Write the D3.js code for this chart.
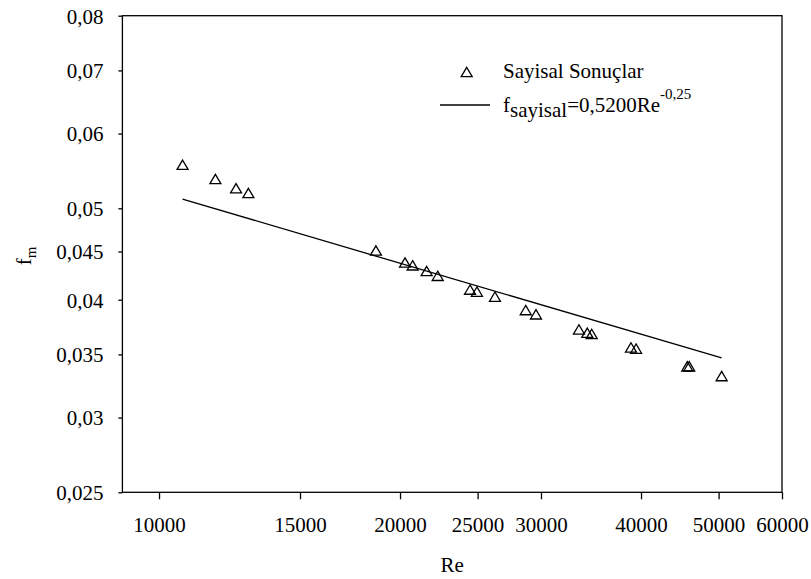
<!DOCTYPE html>
<html>
<head>
<meta charset="utf-8">
<title>f_m vs Re</title>
<script src="https://cdn.jsdelivr.net/npm/d3@7"></script>
<style>
    body { margin: 0; background: #fff; }
    svg text { font-family: "Liberation Serif", "DejaVu Serif", "Times New Roman", Times, serif !important; fill: #000; }
</style>
</head>
<body>
<script>
(function(){

    //pseudo-global variables
    //numerical results (Re, f_m)
    var reValues = [10700, 11760, 12480, 12930, 18660, 20290, 20740, 21590, 22290, 24460, 24950,
                    26280, 28710, 29570, 33460, 34270, 34710, 38860, 39430, 45690, 45950, 50440];
    var fValues = [0.0556, 0.0537, 0.0525, 0.0519, 0.0451, 0.0438, 0.0435, 0.0429, 0.0424, 0.0410, 0.0408,
                   0.0403, 0.0390, 0.0386, 0.0372, 0.0369, 0.0368, 0.0356, 0.0355, 0.0340, 0.0340, 0.0332];

    //fitted curve f = 0.52 * Re^-0.25, drawn over the data range
    var fitCoef = 0.52,
        fitExp = -0.25;

    //axis ticks and their labels
    var xTicks = [10000, 15000, 20000, 25000, 30000, 40000, 50000, 60000];
    var yTicks = [0.025, 0.03, 0.035, 0.04, 0.045, 0.05, 0.06, 0.07, 0.08];
    var yTickLabels = ["0,025", "0,03", "0,035", "0,04", "0,045", "0,05", "0,06", "0,07", "0,08"];

    var serif = "'Liberation Serif', 'DejaVu Serif', 'Times New Roman', serif";

//begin script when window loads
window.onload = drawChart();

function drawChart(){

    //frame dimensions
    var width = 811,
        height = 579;

    var plot = {left: 122.4, right: 782, top: 15.7, bottom: 492.3};

    //create svg container
    var svg = d3.select("body")
        .append("svg")
        .attr("width", width)
        .attr("height", height)
        .style("font-family", serif);

    //log scales on both axes
    var x = d3.scaleLog()
        .domain([9000, 60000])
        .range([plot.left, plot.right]);

    var y = d3.scaleLog()
        .domain([0.025, 0.08])
        .range([plot.bottom, plot.top]);

    //frame box
    svg.append("rect")
        .attr("x", plot.left)
        .attr("y", plot.top)
        .attr("width", plot.right - plot.left)
        .attr("height", plot.bottom - plot.top)
        .attr("fill", "none")
        .attr("stroke", "#000")
        .attr("stroke-width", 1.3);

    //bottom axis
    var xAxis = svg.append("g")
        .attr("transform", "translate(0," + plot.bottom + ")")
        .call(d3.axisBottom(x)
            .tickValues(xTicks)
            .tickSize(7)
            .tickPadding(0)
            .tickFormat(d3.format("d")));

    xAxis.attr("font-family", null).attr("font-size", null);
    xAxis.select(".domain").remove();
    xAxis.selectAll("line").attr("stroke-width", 1.3);
    xAxis.selectAll("text")
        .attr("y", 40)
        .attr("dy", null)
        .style("font-size", "21px")
        .style("font-family", serif);

    //left axis
    var yAxis = svg.append("g")
        .attr("transform", "translate(" + plot.left + ",0)")
        .call(d3.axisLeft(y)
            .tickValues(yTicks)
            .tickSize(4)
            .tickPadding(15)
            .tickFormat(function(d, i){ return yTickLabels[i]; }));

    yAxis.attr("font-family", null).attr("font-size", null);
    yAxis.select(".domain").remove();
    yAxis.selectAll("line").attr("stroke-width", 1.3);
    yAxis.selectAll("text")
        .attr("dy", "0.35em")
        .style("font-size", "21px")
        .style("font-family", serif);

    //axis titles
    svg.append("text")
        .attr("x", (plot.left + plot.right) / 2)
        .attr("y", 572)
        .attr("text-anchor", "middle")
        .style("font-size", "21px")
        .text("Re");

    var yTitle = svg.append("text")
        .attr("transform", "translate(31," + ((plot.top + plot.bottom) / 2 + 2) + ") rotate(-90)")
        .attr("text-anchor", "middle")
        .style("font-size", "21px");
    yTitle.append("tspan").text("f");
    yTitle.append("tspan").style("font-size", "15px").attr("dy", 5).text("m");

    //fit line over data range
    var reExtent = d3.extent(reValues);
    var fitLine = reExtent.map(function(re){
        return [re, fitCoef * Math.pow(re, fitExp)];
    });

    svg.append("path")
        .datum(fitLine)
        .attr("fill", "none")
        .attr("stroke", "#000")
        .attr("stroke-width", 1.3)
        .attr("d", d3.line()
            .x(function(d){ return x(d[0]); })
            .y(function(d){ return y(d[1]); }));

    //open triangle symbol centred on its bounding box
    var triangle = {
        draw: function(context, size){
            var w = size, h = size * 0.85;
            context.moveTo(0, -h / 2);
            context.lineTo(w / 2, h / 2);
            context.lineTo(-w / 2, h / 2);
            context.closePath();
        }
    };
    var symbol = d3.symbol().type(triangle).size(11);

    //data points
    var points = reValues.map(function(re, i){ return {re: re, f: fValues[i]}; });

    svg.selectAll(".pt")
        .data(points)
        .enter()
        .append("path")
        .attr("class", "pt")
        .attr("transform", function(d){ return "translate(" + x(d.re) + "," + y(d.f) + ")"; })
        .attr("d", symbol)
        .attr("fill", "none")
        .attr("stroke", "#000")
        .attr("stroke-width", 1.3);

    //legend
    var legend = svg.append("g");

    legend.append("path")
        .attr("transform", "translate(466.7,72)")
        .attr("d", d3.symbol().type(triangle).size(11))
        .attr("fill", "none")
        .attr("stroke", "#000")
        .attr("stroke-width", 1.3);

    legend.append("text")
        .attr("x", 503)
        .attr("y", 78.3)
        .style("font-size", "21px")
        .text("Sayisal Sonuçlar");

    legend.append("line")
        .attr("x1", 440)
        .attr("x2", 490)
        .attr("y1", 105)
        .attr("y2", 105)
        .attr("stroke", "#000")
        .attr("stroke-width", 1.3);

    var fitLabel = legend.append("text")
        .attr("x", 503)
        .attr("y", 111.7)
        .style("font-size", "21px");
    fitLabel.append("tspan").text("f");
    fitLabel.append("tspan").attr("dy", 5).text("sayisal");
    fitLabel.append("tspan").attr("dy", -5).text("=0,5200Re");
    fitLabel.append("tspan").attr("dy", -13).style("font-size", "15px").text("-0,25");
};

})();
</script>
</body>
</html>
